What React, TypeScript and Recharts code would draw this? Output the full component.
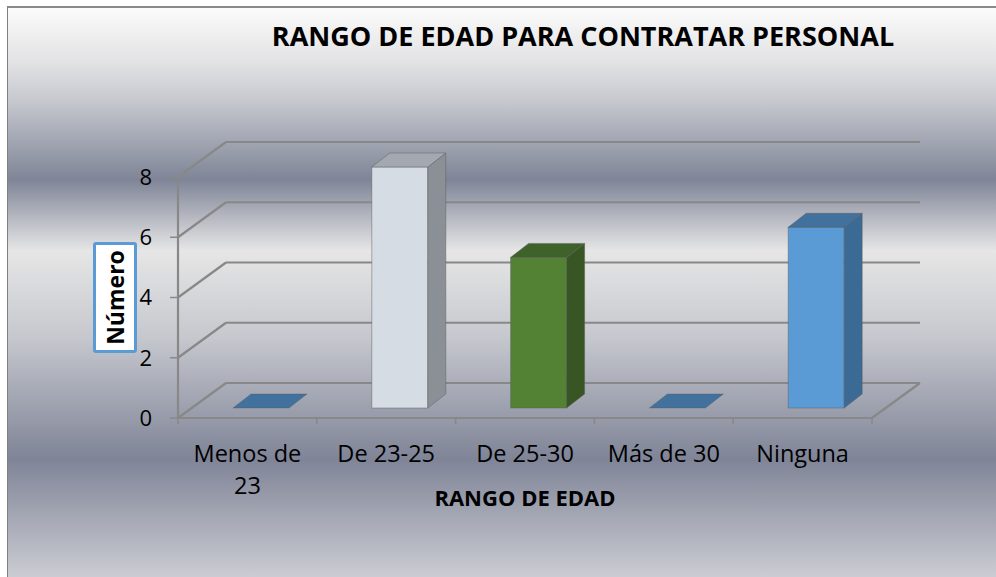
import React from "react";
import { BarChart, Bar, XAxis, YAxis, CartesianGrid, Cell } from "recharts";

const categories = ["Menos de 23", "De 23-25", "De 25-30", "Más de 30", "Ninguna"];
const counts = [0, 8, 5, 0, 6];
const yTicks = [0, 2, 4, 6, 8];

// face colours per bar: front, right side, top
const faces = [
  { front: "#5b9bd5", side: "#3b6a94", top: "#41719c" },
  { front: "#d6dce4", side: "#8b8f96", top: "#a4a8b0" },
  { front: "#548235", side: "#375623", top: "#3e6229" },
  { front: "#5b9bd5", side: "#3b6a94", top: "#41719c" },
  { front: "#5b9bd5", side: "#3b6a94", top: "#41719c" },
];

const data = categories.map((name, i) => ({ name, value: counts[i] }));

const FONT = "'Open Sans', 'DejaVu Sans', sans-serif";
const LINE = "#888888";
// fake 3d: wall depth, bar offset into the floor, bar depth
const WALL_DX = 48;
const WALL_DY = 35;
const BAR_SX = 14;
const BAR_SY = 10;
const BAR_DX = 18;
const BAR_DY = 14;
const MAX_CHARS = 10; // wrap category labels longer than this

const wrap = (s: string) => {
  const lines: string[] = [];
  let cur = "";
  s.split(" ").forEach((w) => {
    const next = cur ? cur + " " + w : w;
    if (next.length > MAX_CHARS && cur) {
      lines.push(cur);
      cur = w;
    } else cur = next;
  });
  if (cur) lines.push(cur);
  return lines;
};

const Box3D = (props: any) => {
  const { x, y, width, height, index } = props;
  const c = faces[index % faces.length];
  const fx = x + BAR_SX;
  const fy = y - BAR_SY;
  const w = width;
  const h = height || 0;
  const top = `${fx},${fy} ${fx + w},${fy} ${fx + w + BAR_DX},${fy - BAR_DY} ${fx + BAR_DX},${fy - BAR_DY}`;
  if (h < 0.5) {
    return <polygon points={top} fill={c.top} stroke="rgba(90,90,90,0.35)" strokeWidth={1} />;
  }
  const side = `${fx + w},${fy} ${fx + w + BAR_DX},${fy - BAR_DY} ${fx + w + BAR_DX},${fy + h - BAR_DY} ${fx + w},${fy + h}`;
  return (
    <g stroke="rgba(90,90,90,0.45)" strokeWidth={1}>
      <rect x={fx} y={fy} width={w} height={h} fill={c.front} />
      <polygon points={side} fill={c.side} />
      <polygon points={top} fill={c.top} />
    </g>
  );
};

// each horizontal gridline = left wall diagonal + back wall line
const WallLine = (props: any) => {
  const { x1, x2, y1 } = props;
  const by = y1 - WALL_DY;
  return (
    <g key={`wall-${y1}`} stroke={LINE} strokeWidth={2.2} fill="none">
      <line x1={x1} y1={y1} x2={x1 + WALL_DX} y2={by} />
      <line x1={x1 + WALL_DX} y1={by} x2={x2 + WALL_DX} y2={by} />
    </g>
  );
};

const XTick = (props: any) => {
  const { x, y, payload, index } = props;
  const half = payload && payload.offset ? payload.offset : 0;
  const last = index === categories.length - 1;
  const lines = wrap(String(payload.value));
  return (
    <g>
      <line x1={x - half} y1={y} x2={x - half} y2={y + 6} stroke={LINE} strokeWidth={1.5} />
      {last && (
        <g stroke={LINE} strokeWidth={2.2}>
          <line x1={x + half} y1={y} x2={x + half} y2={y + 6} strokeWidth={1.5} />
          <line x1={x + half} y1={y} x2={x + half + WALL_DX} y2={y - WALL_DY} />
        </g>
      )}
      <text x={x} y={y + 44} textAnchor="middle" fill="#000" fontSize={23.5} fontFamily={FONT}>
        {lines.map((l, i) => (
          <tspan key={i} x={x} dy={i === 0 ? 0 : 32}>
            {l}
          </tspan>
        ))}
      </text>
    </g>
  );
};

export default function App() {
  return (
    <div style={{ position: "absolute", left: 0, top: 0, width: 996, height: 577, overflow: "hidden", background: "#fff" }}>
      <div
        style={{
          position: "absolute",
          left: 7,
          top: 6,
          width: 1000,
          height: 580,
          borderLeft: "1px solid #7f7f7f",
          borderTop: "2px solid #8a8a8a",
          background:
            "linear-gradient(to bottom, #fbfbfb 0%, #e2e2e4 9.5%, #c4c6cd 16.5%, #7f8597 29.6%, #e6e6e6 41.9%, #c6c8ce 56.7%, #7f8497 77.8%, #d2d3d8 100%)",
        }}
      />
      <div
        style={{
          position: "absolute",
          left: 0,
          top: 22,
          width: 1166,
          textAlign: "center",
          fontFamily: FONT,
          fontWeight: 700,
          fontSize: 27,
          lineHeight: "27px",
          color: "#000",
          whiteSpace: "nowrap",
        }}
      >
        RANGO DE EDAD PARA CONTRATAR PERSONAL
      </div>
      <div style={{ position: "absolute", left: 0, top: 0 }}>
        <BarChart
          width={996}
          height={577}
          data={data}
          margin={{ top: 177, right: 124, bottom: 119, left: 118 }}
        >
          <CartesianGrid vertical={false} horizontal={WallLine} />
          <XAxis
            dataKey="name"
            interval={0}
            height={40}
            tickLine={false}
            tickSize={0}
            tickMargin={0}
            axisLine={{ stroke: LINE, strokeWidth: 2.2 }}
            tick={XTick}
          />
          <YAxis
            width={60}
            domain={[0, 8]}
            ticks={yTicks}
            interval={0}
            tickSize={8}
            tickMargin={18}
            axisLine={{ stroke: LINE, strokeWidth: 2.2 }}
            tickLine={{ stroke: LINE, strokeWidth: 1.5 }}
            tick={{ fill: "#000", fontSize: 22, fontFamily: FONT }}
          />
          <Bar dataKey="value" barSize={56} shape={Box3D} isAnimationActive={false}>
            {data.map((d, i) => (
              <Cell key={`c-${i}`} fill={faces[i].front} />
            ))}
          </Bar>
        </BarChart>
      </div>
      <div
        style={{
          position: "absolute",
          left: 0,
          top: 486,
          width: 1050,
          textAlign: "center",
          fontFamily: FONT,
          fontWeight: 700,
          fontSize: 22,
          lineHeight: "22px",
          color: "#000",
        }}
      >
        RANGO DE EDAD
      </div>
      <div
        style={{
          position: "absolute",
          left: 93,
          top: 242,
          width: 44,
          height: 111,
          boxSizing: "border-box",
          border: "3px solid #5b9bd5",
          borderRadius: 3,
          background: "#fff",
          display: "flex",
          alignItems: "center",
          justifyContent: "center",
        }}
      >
        <div
          style={{
            transform: "rotate(-90deg)",
            fontFamily: FONT,
            fontWeight: 700,
            fontSize: 23,
            lineHeight: "23px",
            whiteSpace: "nowrap",
            color: "#000",
          }}
        >
          Número
        </div>
      </div>
    </div>
  );
}
